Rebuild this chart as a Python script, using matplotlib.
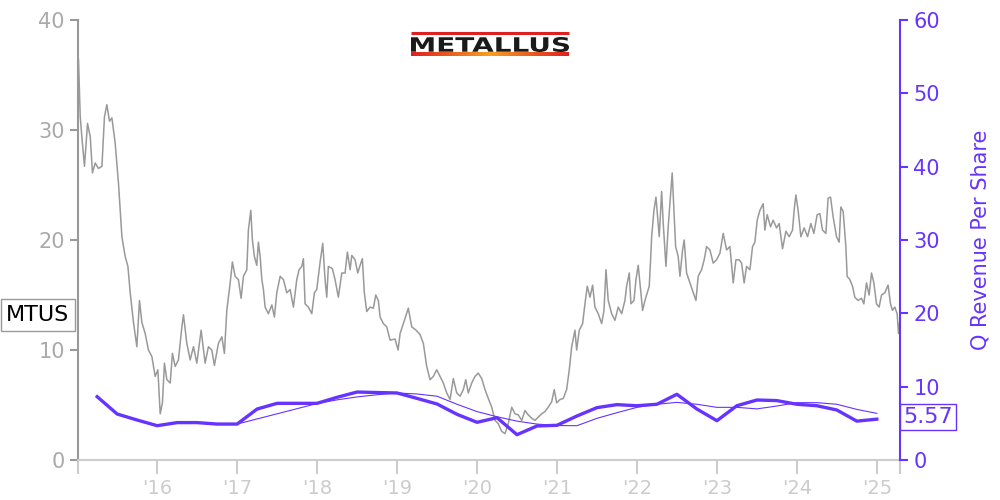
import matplotlib
matplotlib.use("Agg")
import matplotlib.pyplot as plt
from matplotlib.colors import LinearSegmentedColormap
from matplotlib.font_manager import FontProperties
from matplotlib.lines import Line2D
from matplotlib.patches import PathPatch
from matplotlib.textpath import TextPath
from matplotlib.transforms import Affine2D
import numpy as np

# MTUS share price (decimal year, USD)
price_dates = [
    2015.016, 2015.038, 2015.059, 2015.091, 2015.129, 2015.163, 2015.191, 2015.225, 2015.266, 2015.309,
    2015.341, 2015.371, 2015.404, 2015.434, 2015.475, 2015.516, 2015.559, 2015.600, 2015.634, 2015.663,
    2015.704, 2015.746, 2015.779, 2015.809, 2015.850, 2015.891, 2015.934, 2015.975, 2016.009, 2016.038,
    2016.066, 2016.091, 2016.121, 2016.163, 2016.191, 2016.225, 2016.266, 2016.309, 2016.329, 2016.371,
    2016.413, 2016.454, 2016.496, 2016.550, 2016.600, 2016.641, 2016.684, 2016.716, 2016.766, 2016.809,
    2016.841, 2016.871, 2016.913, 2016.941, 2016.975, 2017.016, 2017.050, 2017.079, 2017.121, 2017.141,
    2017.171, 2017.191, 2017.216, 2017.246, 2017.266, 2017.288, 2017.309, 2017.329, 2017.350, 2017.391,
    2017.434, 2017.466, 2017.496, 2017.538, 2017.579, 2017.621, 2017.663, 2017.704, 2017.746, 2017.775,
    2017.809, 2017.829, 2017.850, 2017.891, 2017.934, 2017.966, 2017.996, 2018.038, 2018.071, 2018.100,
    2018.121, 2018.141, 2018.191, 2018.225, 2018.266, 2018.309, 2018.350, 2018.379, 2018.413, 2018.434,
    2018.475, 2018.509, 2018.538, 2018.566, 2018.591, 2018.621, 2018.663, 2018.704, 2018.734, 2018.766,
    2018.788, 2018.829, 2018.871, 2018.913, 2018.975, 2019.013, 2019.038, 2019.079, 2019.141, 2019.184,
    2019.238, 2019.288, 2019.329, 2019.371, 2019.413, 2019.454, 2019.496, 2019.538, 2019.579, 2019.621,
    2019.663, 2019.704, 2019.746, 2019.788, 2019.829, 2019.859, 2019.891, 2019.934, 2019.975, 2020.016,
    2020.059, 2020.100, 2020.141, 2020.184, 2020.225, 2020.266, 2020.309, 2020.350, 2020.391, 2020.434,
    2020.475, 2020.516, 2020.559, 2020.600, 2020.641, 2020.684, 2020.725, 2020.766, 2020.809, 2020.850,
    2020.891, 2020.934, 2020.966, 2020.996, 2021.038, 2021.079, 2021.121, 2021.154, 2021.184, 2021.225,
    2021.246, 2021.279, 2021.321, 2021.350, 2021.379, 2021.413, 2021.446, 2021.475, 2021.516, 2021.559,
    2021.588, 2021.613, 2021.641, 2021.684, 2021.725, 2021.766, 2021.809, 2021.850, 2021.871, 2021.904,
    2021.925, 2021.963, 2021.988, 2022.016, 2022.038, 2022.071, 2022.100, 2022.129, 2022.154, 2022.171,
    2022.184, 2022.213, 2022.238, 2022.259, 2022.279, 2022.309, 2022.329, 2022.363, 2022.391, 2022.421,
    2022.441, 2022.463, 2022.484, 2022.516, 2022.538, 2022.571, 2022.591, 2022.621, 2022.663, 2022.704,
    2022.738, 2022.766, 2022.809, 2022.841, 2022.871, 2022.913, 2022.954, 2022.996, 2023.038, 2023.079,
    2023.121, 2023.163, 2023.204, 2023.238, 2023.279, 2023.309, 2023.341, 2023.371, 2023.413, 2023.446,
    2023.475, 2023.504, 2023.538, 2023.579, 2023.600, 2023.629, 2023.671, 2023.704, 2023.746, 2023.779,
    2023.821, 2023.863, 2023.904, 2023.946, 2023.966, 2023.988, 2024.016, 2024.050, 2024.091, 2024.134,
    2024.175, 2024.213, 2024.254, 2024.288, 2024.321, 2024.363, 2024.391, 2024.421, 2024.454, 2024.496,
    2024.529, 2024.550, 2024.579, 2024.613, 2024.629, 2024.663, 2024.696, 2024.725, 2024.766, 2024.809,
    2024.838, 2024.871, 2024.904, 2024.934, 2024.963, 2024.996, 2025.029, 2025.059, 2025.100, 2025.141,
    2025.171, 2025.196, 2025.225, 2025.254, 2025.271, 2025.288,
]
price_values = [
    36.4, 31.2, 29.3, 26.7, 30.6, 29.4, 26.1, 27.0, 26.5, 26.7,
    31.2, 32.3, 30.8, 31.1, 28.8, 25.2, 20.3, 18.5, 17.6, 15.2,
    12.5, 10.3, 14.5, 12.5, 11.5, 10.0, 9.4, 7.6, 8.2, 4.2,
    5.2, 8.8, 7.3, 7.0, 9.7, 8.5, 9.1, 12.1, 13.2, 10.6,
    9.1, 10.3, 8.8, 11.8, 8.8, 10.3, 10.0, 8.6, 10.6, 11.2,
    9.7, 13.6, 16.1, 18.0, 16.7, 16.4, 14.7, 16.7, 17.3, 20.9,
    22.7, 20.0, 18.5, 17.7, 19.8, 18.5, 16.4, 15.5, 13.9, 13.3,
    14.1, 13.0, 15.2, 16.7, 16.4, 15.2, 15.5, 13.9, 16.4, 17.3,
    17.6, 18.3, 14.2, 13.9, 13.3, 15.2, 15.5, 18.0, 19.7, 16.4,
    14.8, 17.6, 17.4, 16.4, 14.8, 17.0, 17.0, 18.9, 17.3, 18.6,
    18.2, 17.0, 17.7, 18.3, 15.2, 13.5, 13.9, 13.8, 15.0, 14.5,
    13.0, 12.4, 12.1, 10.9, 11.0, 10.0, 11.5, 12.4, 13.8, 12.1,
    11.8, 11.4, 10.6, 8.5, 7.3, 7.6, 8.2, 7.6, 7.0, 6.1,
    5.5, 7.4, 6.1, 5.8, 6.4, 7.3, 6.1, 7.0, 7.6, 7.9,
    7.4, 6.4, 5.6, 4.8, 3.6, 3.3, 2.6, 2.4, 3.3, 4.8,
    4.2, 4.1, 3.6, 4.5, 4.1, 3.8, 3.6, 3.9, 4.2, 4.4,
    4.8, 5.3, 6.4, 5.2, 5.5, 5.6, 6.4, 8.2, 10.3, 11.8,
    10.0, 11.8, 12.4, 14.2, 15.8, 14.8, 15.9, 13.9, 13.3, 12.4,
    13.6, 17.3, 14.5, 13.3, 12.7, 13.9, 13.3, 14.5, 15.8, 17.0,
    14.2, 14.5, 16.4, 17.7, 16.1, 13.6, 14.5, 15.2, 15.8, 18.2,
    20.3, 22.7, 23.9, 22.1, 20.3, 24.4, 21.5, 17.6, 21.2, 24.2,
    26.1, 22.7, 19.4, 18.5, 16.7, 19.1, 20.0, 17.0, 16.1, 15.2,
    14.5, 16.7, 17.3, 18.2, 19.4, 19.1, 17.9, 18.2, 18.8, 20.6,
    19.1, 19.4, 16.1, 18.2, 18.2, 17.9, 16.1, 17.6, 17.3, 19.4,
    19.8, 21.8, 22.7, 23.3, 20.9, 22.3, 21.2, 21.8, 21.1, 21.5,
    19.2, 20.8, 20.3, 20.9, 22.7, 24.1, 22.7, 20.3, 21.1, 20.3,
    21.5, 20.6, 22.3, 22.4, 20.9, 20.6, 23.8, 23.9, 22.1, 20.3,
    19.8, 23.0, 22.6, 19.4, 16.7, 16.4, 15.8, 14.8, 14.5, 14.7,
    14.2, 16.1, 15.0, 17.0, 16.1, 14.2, 13.9, 15.0, 15.2, 15.9,
    14.2, 13.6, 13.9, 13.3, 11.5, 12.7,
]

# quarterly revenue per share
rev_dates = np.arange(2015.25, 2025.01, 0.25)
rev_values = [
    8.63, 6.27, 5.45, 4.68, 5.1, 5.1, 4.9, 4.9, 6.95, 7.73,
    7.73, 7.73, 8.55, 9.27, 9.2, 9.14, 8.4, 7.64, 6.23, 5.14,
    5.77, 3.45, 4.64, 4.73, 6.0, 7.14, 7.55, 7.4, 7.6, 8.96,
    6.95, 5.36, 7.4, 8.18, 8.1, 7.6, 7.4, 6.82, 5.3, 5.57,
]
# smoothed revenue per share (thin line)
avg_dates = np.arange(2016.25, 2025.01, 0.25)
avg_values = [
    5.0, 5.0, 4.95, 4.9, 5.6, 6.3, 7.0, 7.7, 8.2, 8.6,
    8.9, 9.14, 9.0, 8.7, 7.6, 6.6, 5.9, 5.3, 4.9, 4.7,
    4.68, 5.68, 6.45, 7.18, 7.6, 7.86, 7.6, 7.18, 7.18, 6.97,
    7.36, 7.82, 7.82, 7.6, 6.9, 6.36,
]

year_ticks = [2016, 2017, 2018, 2019, 2020, 2021, 2022, 2023, 2024, 2025]
year_labels = ["'16", "'17", "'18", "'19", "'20", "'21", "'22", "'23", "'24", "'25"]

GRAY = '#999999'
PURPLE = '#6633ff'
XMIN, XMAX = 2015.01, 2025.29

fig = plt.figure(figsize=(10, 5), dpi=100)
ax = fig.add_axes([0.078, 0.08, 0.822, 0.88])
ax2 = ax.twinx()

ax.plot(price_dates, price_values, color=GRAY, linewidth=1.1, zorder=2)
ax.set_xlim(XMIN, XMAX)
ax.set_ylim(0, 40)
ax.set_yticks([0, 10, 20, 30, 40])
ax.tick_params(axis='y', colors='#aaaaaa', labelsize=15, length=6, width=1.5, direction='out')
ax.tick_params(axis='y', color=GRAY)
ax.set_xticks([XMIN] + year_ticks + [XMAX])
ax.set_xticklabels([''] + year_labels + [''])
ax.tick_params(axis='x', colors='#cccccc', labelsize=14, length=10, width=1.5, direction='out')

for a in (ax, ax2):
    a.spines['top'].set_visible(False)
ax.spines['left'].set_color(GRAY)
ax.spines['left'].set_linewidth(1.5)
ax.spines['bottom'].set_color('#cccccc')
ax.spines['bottom'].set_linewidth(1.5)
ax.spines['right'].set_visible(False)
ax2.spines['left'].set_visible(False)
ax2.spines['bottom'].set_visible(False)
ax2.spines['right'].set_color(PURPLE)
ax2.spines['right'].set_linewidth(1.5)

ax2.plot(rev_dates, rev_values, color=PURPLE, linewidth=2.4, zorder=3)
ax2.plot(avg_dates, avg_values, color=PURPLE, linewidth=0.8, zorder=3)
ax2.set_ylim(0, 60)
ax2.set_xlim(XMIN, XMAX)
ax2.set_yticks([0, 10, 20, 30, 40, 50, 60])
ax2.tick_params(axis='y', colors=PURPLE, labelsize=15, length=6, width=1.5)
ax2.set_ylabel('Q Revenue Per Share', color=PURPLE, fontsize=15, labelpad=22)

# ticker label on the left and latest value on the right
fig.text(0.038, 0.37, 'MTUS', fontsize=16, color='black', ha='center', va='center',
         bbox=dict(boxstyle='square,pad=0.25', facecolor='white', edgecolor=GRAY, linewidth=1))
ax2.text(1.004, rev_values[-1] + 0.3, f'{rev_values[-1]:.2f}', transform=ax2.get_yaxis_transform(),
         fontsize=16, color=PURPLE, ha='left', va='center',
         bbox=dict(boxstyle='square,pad=0.15', facecolor='white', edgecolor=PURPLE, linewidth=1))

# logo: stretched bold wordmark between a red and a red/orange stripe
x0, x1, y0, y1 = 0.411, 0.569, 0.896, 0.926
tp = TextPath((0, 0), 'METALLUS', size=10, prop=FontProperties(family='DejaVu Sans', weight='bold'))
ext = tp.get_extents()
tr = (Affine2D().translate(-ext.x0, -ext.y0)
      .scale((x1 - x0) / ext.width, (y1 - y0) / ext.height)
      .translate(x0, y0) + fig.transFigure)
fig.add_artist(PathPatch(tp, transform=tr, facecolor='#1a1a1a', edgecolor='none'))
fig.add_artist(Line2D([x0, x1], [0.934, 0.934], color='#e02020', linewidth=2.2,
                      solid_capstyle='butt'))
stripe = fig.add_axes([x0, 0.888, x1 - x0, 0.008])
cmap = LinearSegmentedColormap.from_list('logo', ['#e02020', '#f5a020', '#e02020'])
stripe.imshow(np.linspace(0, 1, 100).reshape(1, -1), cmap=cmap, aspect='auto')
stripe.axis('off')

fig.savefig('out.png', dpi=100)
